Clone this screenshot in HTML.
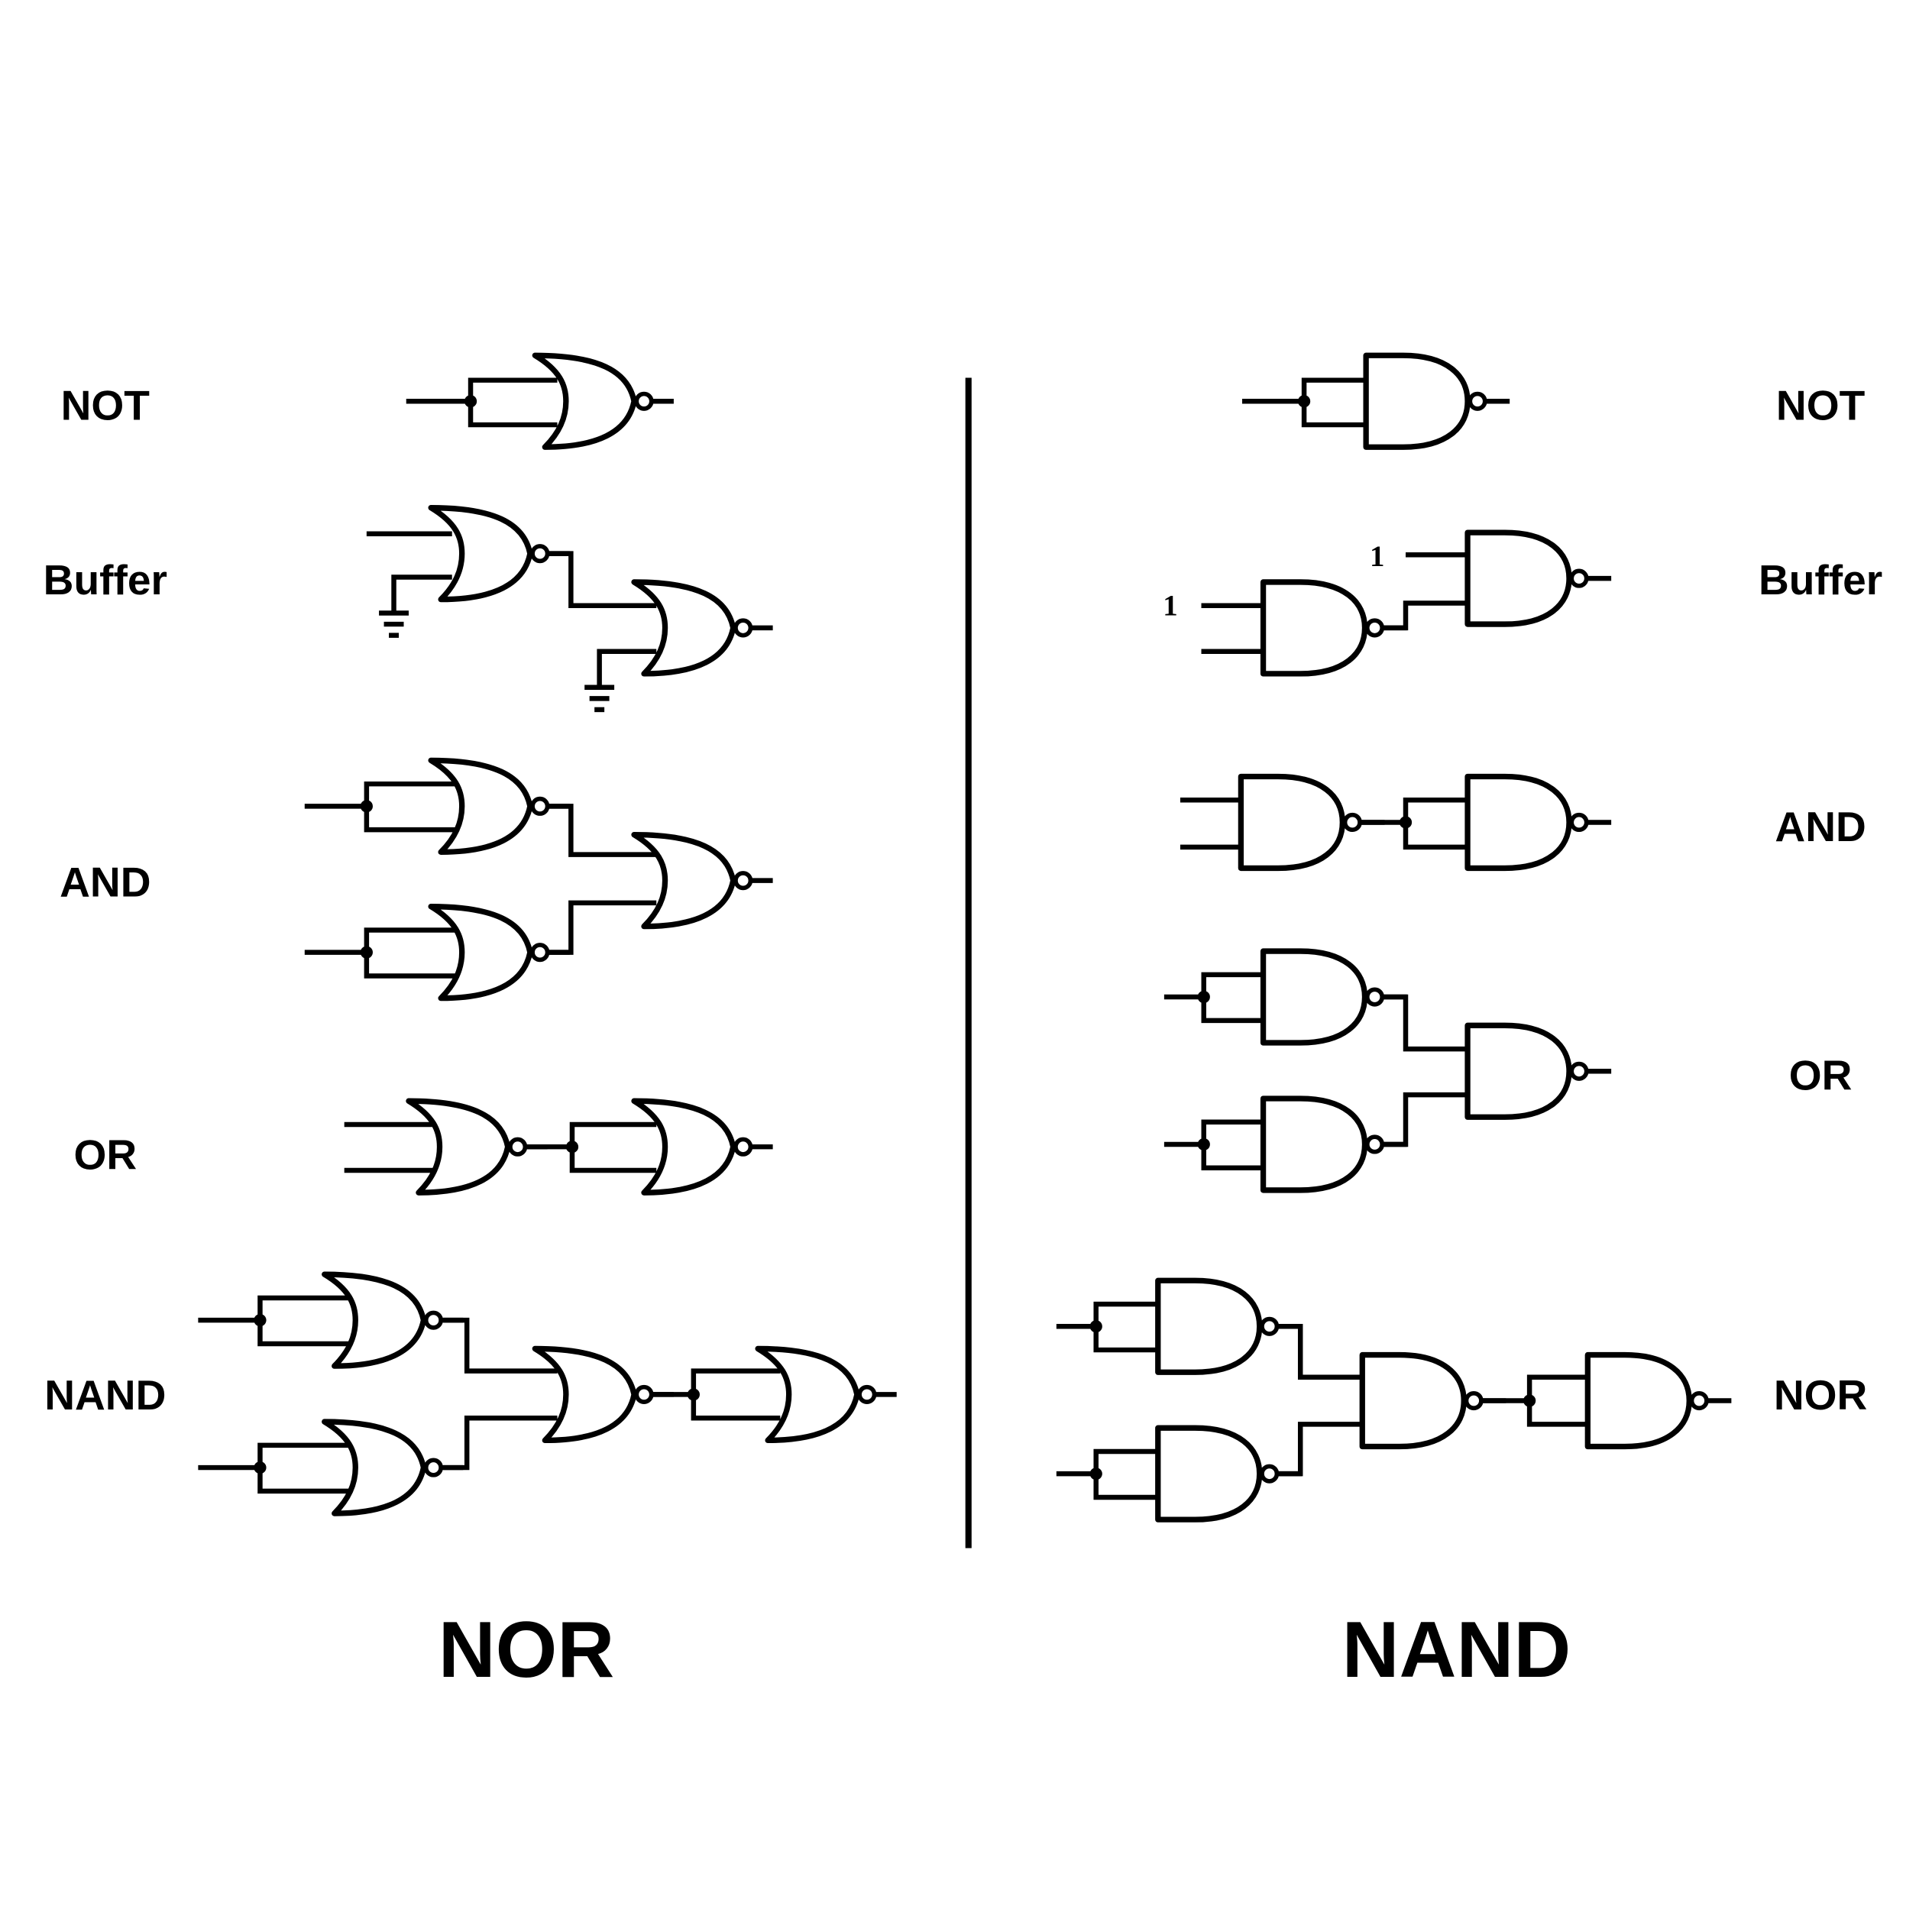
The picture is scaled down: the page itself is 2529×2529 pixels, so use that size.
<!DOCTYPE html>
<html><head><meta charset="utf-8"><style>
html,body{margin:0;padding:0;background:#fff}
svg{display:block}
text{font-family:"Liberation Sans",sans-serif;font-weight:bold;fill:#000;text-anchor:middle}
</style></head><body>
<svg width="2529" height="2529" viewBox="0 0 1560 1560" xmlns="http://www.w3.org/2000/svg">
<defs>
<g id="or">
<path d="M0,0 C50,0 75,12 80,37 C75,62 50,74 8,74 C20,62 25,50 25,37 C25,24 20,12 0,0 Z" fill="none" stroke="#000" stroke-width="4.5" stroke-linejoin="round"/>
<circle cx="88" cy="37" r="6" fill="#fff" stroke="#000" stroke-width="3.5"/>
<line x1="94" y1="37" x2="112" y2="37" stroke="#000" stroke-width="4"/>
</g>
<g id="nand">
<path d="M0,0 L0,74 L30,74 C65,74 82,58 82,37 C82,16 65,0 30,0 Z" fill="none" stroke="#000" stroke-width="4.5" stroke-linejoin="round"/>
<circle cx="90" cy="37" r="6" fill="#fff" stroke="#000" stroke-width="3.5"/>
<line x1="96" y1="37" x2="116" y2="37" stroke="#000" stroke-width="4"/>
</g>
<g id="gnd" stroke="#000" stroke-width="4">
<line x1="-12" y1="0" x2="12" y2="0"/><line x1="-8" y1="9" x2="8" y2="9"/><line x1="-4" y1="18" x2="4" y2="18"/>
</g>
</defs>
<g fill="none" stroke="#000" stroke-width="4" stroke-linejoin="miter">
<!-- LEFT NOT -->
<path d="M328,324 H380 M450,307 H380 V343 H450"/>
<!-- Buffer -->
<path d="M296,431 H365 M365,466 H318 V495"/>
<path d="M443,447 H461 V489 H530"/>
<path d="M530,526 H484 V555"/>
<!-- AND -->
<path d="M246,651 H296 M370,633 H296 V670 H370"/>
<path d="M246,769 H296 M370,751 H296 V788 H370"/>
<path d="M443,651 H461 V690 H530 M443,769 H461 V729 H530"/>
<!-- OR -->
<path d="M278,908 H350 M278,945 H350"/>
<path d="M426,926 H462 M530,908 H462 V945 H530"/>
<!-- NAND row -->
<path d="M160,1066 H210 M282,1048 H210 V1085 H282"/>
<path d="M160,1185 H210 M282,1167 H210 V1204 H282"/>
<path d="M358,1066 H377 V1107 H450 M358,1185 H377 V1145 H450"/>
<path d="M523,1126 H560 M630,1107 H560 V1145 H630"/>
<!-- RIGHT NOT -->
<path d="M1003,324 H1053 M1103,307 H1053 V343 H1103"/>
<!-- Buffer right -->
<path d="M970,489 H1020 M970,526 H1020"/>
<path d="M1135,448 H1185 M1117,507 H1135 V487 H1185"/>
<!-- AND right -->
<path d="M953,646 H1002 M953,684 H1002"/>
<path d="M1099,664 H1135 M1185,646 H1135 V684 H1185"/>
<!-- OR right -->
<path d="M940,805 H972 M1020,787 H972 V824 H1020"/>
<path d="M940,924 H972 M1020,906 H972 V943 H1020"/>
<path d="M1117,805 H1135 V847 H1185 M1117,924 H1135 V884 H1185"/>
<!-- NOR right -->
<path d="M853,1071 H885 M935,1053 H885 V1090 H935"/>
<path d="M853,1190 H885 M935,1172 H885 V1209 H935"/>
<path d="M1031,1071 H1050 V1112 H1100 M1031,1190 H1050 V1150 H1100"/>
<path d="M1196,1131 H1235 M1282,1112 H1235 V1150 H1282"/>
</g>
<g fill="#000">
<circle cx="380" cy="324" r="5"/>
<circle cx="296" cy="651" r="5"/><circle cx="296" cy="769" r="5"/>
<circle cx="462" cy="926" r="5"/>
<circle cx="210" cy="1066" r="5"/><circle cx="210" cy="1185" r="5"/><circle cx="560" cy="1126" r="5"/>
<circle cx="1053" cy="324" r="5"/>
<circle cx="1135" cy="664" r="5"/>
<circle cx="972" cy="805" r="5"/><circle cx="972" cy="924" r="5"/>
<circle cx="885" cy="1071" r="5"/><circle cx="885" cy="1190" r="5"/><circle cx="1235" cy="1131" r="5"/>
</g>
<use href="#gnd" x="318" y="495"/>
<use href="#gnd" x="484" y="555"/>
<!-- NOR gates -->
<use href="#or" x="432" y="287"/>
<use href="#or" x="348" y="410"/>
<use href="#or" x="512" y="470"/>
<use href="#or" x="348" y="614"/>
<use href="#or" x="348" y="732"/>
<use href="#or" x="512" y="674"/>
<use href="#or" x="330" y="889"/>
<use href="#or" x="512" y="889"/>
<use href="#or" x="262" y="1029"/>
<use href="#or" x="262" y="1148"/>
<use href="#or" x="432" y="1089"/>
<use href="#or" x="612" y="1089"/>
<!-- NAND gates -->
<use href="#nand" x="1103" y="287"/>
<use href="#nand" x="1020" y="470"/>
<use href="#nand" x="1185" y="430"/>
<use href="#nand" x="1002" y="627"/>
<use href="#nand" x="1185" y="627"/>
<use href="#nand" x="1020" y="768"/>
<use href="#nand" x="1020" y="887"/>
<use href="#nand" x="1185" y="828"/>
<use href="#nand" x="935" y="1034"/>
<use href="#nand" x="935" y="1153"/>
<use href="#nand" x="1100" y="1094"/>
<use href="#nand" x="1282" y="1094"/>
<line x1="782" y1="305" x2="782" y2="1250" stroke="#000" stroke-width="5"/>
<text x="945" y="497" style="font-family:'Liberation Serif',serif" font-size="24">1</text>
<text x="1112" y="457" style="font-family:'Liberation Serif',serif" font-size="24">1</text>
<g font-size="34">
<text x="85" y="339">NOT</text>
<text x="85" y="480">Buffer</text>
<text x="85" y="724">AND</text>
<text x="85" y="944">OR</text>
<text x="85" y="1138">NAND</text>
<text x="1470" y="339">NOT</text>
<text x="1470" y="480">Buffer</text>
<text x="1470" y="679">AND</text>
<text x="1470" y="880">OR</text>
<text x="1470" y="1138">NOR</text>
</g>
<text x="425" y="1354" font-size="64">NOR</text>
<text x="1176" y="1354" font-size="64">NAND</text>
</svg>
</body></html>
